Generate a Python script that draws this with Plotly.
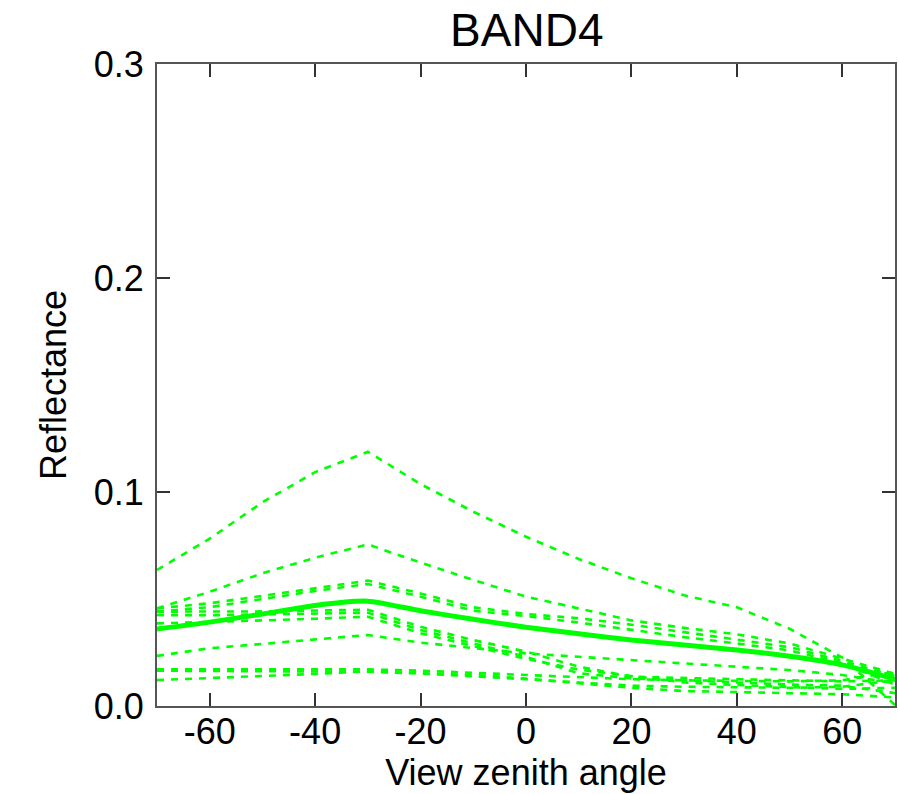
import plotly.graph_objects as go

angles = [-70, -60, -50, -40, -30, -20, -10, 0, 10, 20, 30, 40, 50, 60, 70]

mean_curve = [0.0360, 0.0392, 0.0430, 0.0470, 0.0490, 0.0445, 0.0405, 0.0368, 0.0338, 0.0308,
              0.0285, 0.0262, 0.0232, 0.0192, 0.0125]

samples = [
    [0.0636, 0.0782, 0.0952, 0.1093, 0.1188, 0.1037, 0.0908, 0.0791, 0.0687, 0.0597, 0.0517, 0.0461, 0.0361, 0.0226, 0.0005],
    [0.0456, 0.0534, 0.0620, 0.0693, 0.0755, 0.0670, 0.0589, 0.0511, 0.0456, 0.0400, 0.0365, 0.0335, 0.0292, 0.0222, 0.0150],
    [0.0456, 0.0480, 0.0515, 0.0552, 0.0586, 0.0526, 0.0461, 0.0430, 0.0410, 0.0380, 0.0345, 0.0312, 0.0275, 0.0210, 0.0140],
    [0.0441, 0.0462, 0.0500, 0.0538, 0.0570, 0.0511, 0.0445, 0.0420, 0.0390, 0.0355, 0.0322, 0.0292, 0.0260, 0.0200, 0.0100],
    [0.0441, 0.0441, 0.0442, 0.0446, 0.0450, 0.0370, 0.0308, 0.0254, 0.0184, 0.0137, 0.0130, 0.0125, 0.0120, 0.0115, 0.0120],
    [0.0425, 0.0424, 0.0428, 0.0432, 0.0436, 0.0355, 0.0293, 0.0230, 0.0153, 0.0129, 0.0120, 0.0110, 0.0100, 0.0095, 0.0060],
    [0.0386, 0.0392, 0.0400, 0.0408, 0.0417, 0.0340, 0.0280, 0.0220, 0.0170, 0.0140, 0.0110, 0.0098, 0.0090, 0.0080, 0.0085],
    [0.0234, 0.0270, 0.0290, 0.0311, 0.0332, 0.0296, 0.0270, 0.0246, 0.0230, 0.0215, 0.0200, 0.0184, 0.0168, 0.0145, 0.0106],
    [0.0171, 0.0171, 0.0172, 0.0172, 0.0171, 0.0165, 0.0155, 0.0145, 0.0135, 0.0125, 0.0120, 0.0118, 0.0115, 0.0120, 0.0160],
    [0.0165, 0.0164, 0.0163, 0.0162, 0.0160, 0.0152, 0.0140, 0.0125, 0.0110, 0.0095, 0.0090, 0.0088, 0.0085, 0.0090, 0.0120],
    [0.0121, 0.0130, 0.0140, 0.0150, 0.0162, 0.0155, 0.0145, 0.0128, 0.0105, 0.0085, 0.0070, 0.0065, 0.0060, 0.0055, 0.0040],
]

title_text = "BAND4"
x_title = "View zenith angle"
y_title = "Reflectance"
x_ticks = [-60, -40, -20, 0, 20, 40, 60]
y_ticks = [0.0, 0.1, 0.2, 0.3]

green = "#00ff00"
fig = go.Figure()
for s in samples:
    fig.add_trace(go.Scatter(x=angles, y=s, mode="lines",
                             line=dict(color=green, width=2.6, dash="7px,7px"),
                             showlegend=False, hoverinfo="skip"))
fig.add_trace(go.Scatter(x=angles, y=mean_curve, mode="lines",
                         line=dict(color=green, width=5, shape="spline", smoothing=0.6),
                         showlegend=False, hoverinfo="skip"))

font = "Liberation Sans, Arial, sans-serif"
axis_common = dict(showgrid=False, zeroline=False, showline=True, linecolor="#555555",
                   linewidth=2, mirror="ticks", ticks="inside", ticklen=13, tickwidth=2,
                   tickcolor="#333333", tickfont=dict(family=font, size=36, color="black"))

fig.update_layout(
    width=899, height=794,
    margin=dict(l=157, r=2, t=64, b=88),
    paper_bgcolor="white", plot_bgcolor="white",
    title=dict(text=title_text, x=0.586, xanchor="center", y=0.962, yanchor="middle",
               font=dict(family=font, size=46, color="black")),
    xaxis=dict(range=[-70, 70], tickvals=x_ticks, ticktext=[str(t) for t in x_ticks],
               title=dict(text=x_title, font=dict(family=font, size=36, color="black"), standoff=0),
               ticklabelstandoff=-7, **axis_common),
    yaxis=dict(range=[0, 0.3], tickvals=y_ticks, ticktext=[f"{t:.1f}" for t in y_ticks],
               title=dict(text=y_title, font=dict(family=font, size=36, color="black"), standoff=16),
               ticklabelstandoff=4, **axis_common),
)

fig.write_html("out.html")
